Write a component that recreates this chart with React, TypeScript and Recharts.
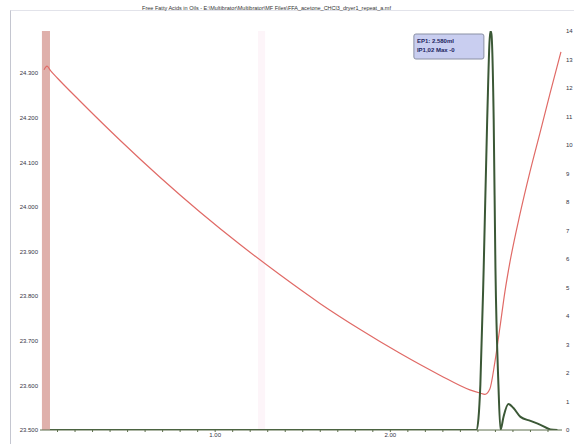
import React from "react";
import {
  LineChart,
  Line,
  XAxis,
  YAxis,
  ReferenceArea,
  ReferenceDot,
} from "recharts";

const title =
  "Free Fatty Acids in Oils - E:\\Multibrator\\Multibrator\\MF Files\\FFA_acetone_CHCl3_dryer1_repeat_a.mf";

// red trace, left axis
const redTime = [
  0.023, 0.04, 0.06, 0.1, 0.228, 0.457, 0.685, 0.913, 1.142, 1.37, 1.598,
  1.826, 2.055, 2.283, 2.454, 2.511, 2.54, 2.568, 2.597, 2.626, 2.654, 2.683,
  2.74, 2.797, 2.854, 2.911, 2.974,
];
const redValue = [
  24.308, 24.316, 24.306, 24.289, 24.238, 24.15, 24.067, 23.989, 23.916,
  23.848, 23.784, 23.726, 23.672, 23.623, 23.59, 23.583, 23.58, 23.592, 23.653,
  23.731, 23.81, 23.877, 23.984, 24.079, 24.166, 24.254, 24.348,
];

// dark peak trace, right axis
const peakTime = [
  0.057, 2.491, 2.503, 2.514, 2.533, 2.553, 2.571, 2.577, 2.59, 2.6, 2.617,
  2.629, 2.646, 2.674, 2.703, 2.743, 2.8, 2.857, 2.914, 2.954,
];
const peakValue = [
  0, 0, 0.4, 1.6, 5.7, 10.9, 14, 13.9, 10.9, 5.7, 1.6, 0, 0.46, 0.91, 0.77,
  0.46, 0.32, 0.18, 0.02, 0,
];

const leftTicks = [23.5, 23.6, 23.7, 23.8, 23.9, 24.0, 24.1, 24.2, 24.3];
const rightTicks = [0, 1, 2, 3, 4, 5, 6, 7, 8, 9, 10, 11, 12, 13, 14];
const timeTicks = [
  0.1, 0.2, 0.3, 0.4, 0.5, 0.6, 0.7, 0.8, 0.9, 1.0, 1.1, 1.2, 1.3, 1.4, 1.5,
  1.6, 1.7, 1.8, 1.9, 2.0, 2.1, 2.2, 2.3, 2.4, 2.5, 2.6, 2.7, 2.8, 2.9,
];

const endPoint = { time: 2.574, value: 14 };
const boxLines = ["EP1: 2.580ml", "IP1,02 Max -0"];

const redData = redTime.map((t, i) => ({ t, v: redValue[i] }));
const peakData = peakTime.map((t, i) => ({ t, v: peakValue[i] }));

const tickStyle = { fontSize: 6, fill: "#334", fontFamily: "Arial, sans-serif" };

export default function App() {
  return (
    <div
      style={{
        position: "fixed",
        left: 0,
        top: 0,
        width: 574,
        height: 444,
        background: "#fff",
        overflow: "hidden",
      }}
    >
      <div
        style={{
          position: "absolute",
          left: 10,
          top: 10,
          width: 600,
          height: 500,
          borderLeft: "1px solid #c4c6d0",
          borderTop: "1px solid #e2e3ea",
        }}
      />
      <div
        style={{
          position: "absolute",
          left: 0,
          width: 533,
          top: 5,
          textAlign: "center",
          fontSize: 5.5,
          fontFamily: "Arial, sans-serif",
          color: "#333",
        }}
      >
        {title}
      </div>
      <LineChart
        width={574}
        height={444}
        margin={{ top: 31, right: 0, left: 0, bottom: 0 }}
        style={{ position: "absolute", left: 0, top: 0 }}
      >
        <XAxis
          type="number"
          dataKey="t"
          domain={[0, 2.98]}
          allowDataOverflow
          ticks={timeTicks}
          interval={0}
          tickFormatter={(v) => (Math.abs(v - Math.round(v)) < 0.001 ? v.toFixed(2) : "")}
          tick={tickStyle}
          tickSize={2}
          tickMargin={1}
          stroke="#5d6e4c"
          height={14}
        />
        <YAxis
          yAxisId="left"
          type="number"
          domain={[23.5, 24.395]}
          allowDataOverflow
          ticks={leftTicks}
          interval={0}
          tickFormatter={(v) => v.toFixed(3)}
          tick={tickStyle}
          axisLine={false}
          tickSize={0}
          tickMargin={2}
          width={40}
        />
        <YAxis
          yAxisId="right"
          orientation="right"
          type="number"
          domain={[0, 14]}
          allowDataOverflow
          ticks={rightTicks}
          interval={0}
          tick={tickStyle}
          axisLine={false}
          tickSize={0}
          tickMargin={4}
          width={12}
        />
        <ReferenceArea
          yAxisId="left"
          x1={0.011}
          x2={0.057}
          fill="#dfb0ab"
          fillOpacity={1}
          ifOverflow="visible"
        />
        <ReferenceArea
          yAxisId="left"
          x1={1.245}
          x2={1.285}
          fill="#fdf5f9"
          fillOpacity={1}
          ifOverflow="visible"
        />
        <Line
          yAxisId="left"
          data={redData}
          dataKey="v"
          type="monotone"
          stroke="#e06a66"
          strokeWidth={1.2}
          dot={false}
          isAnimationActive={false}
        />
        <Line
          yAxisId="right"
          data={peakData}
          dataKey="v"
          type="monotone"
          stroke="#3b5836"
          strokeWidth={2}
          dot={false}
          isAnimationActive={false}
        />
        <ReferenceDot
          yAxisId="right"
          x={endPoint.time}
          y={endPoint.value}
          r={0}
          ifOverflow="visible"
          shape={(p: any) => (
            <g>
              <rect
                x={p.cx - 77}
                y={p.cy + 3}
                width={70}
                height={25}
                rx={2}
                fill="#c9cef0"
                stroke="#8a90a4"
                strokeWidth={1}
              />
              {boxLines.map((s, i) => (
                <text
                  key={s}
                  x={p.cx - 74}
                  y={p.cy + 12 + i * 9}
                  fontSize={6}
                  fontWeight="bold"
                  fill="#1c2460"
                  fontFamily="Arial, sans-serif"
                >
                  {s}
                </text>
              ))}
            </g>
          )}
        />
      </LineChart>
    </div>
  );
}
